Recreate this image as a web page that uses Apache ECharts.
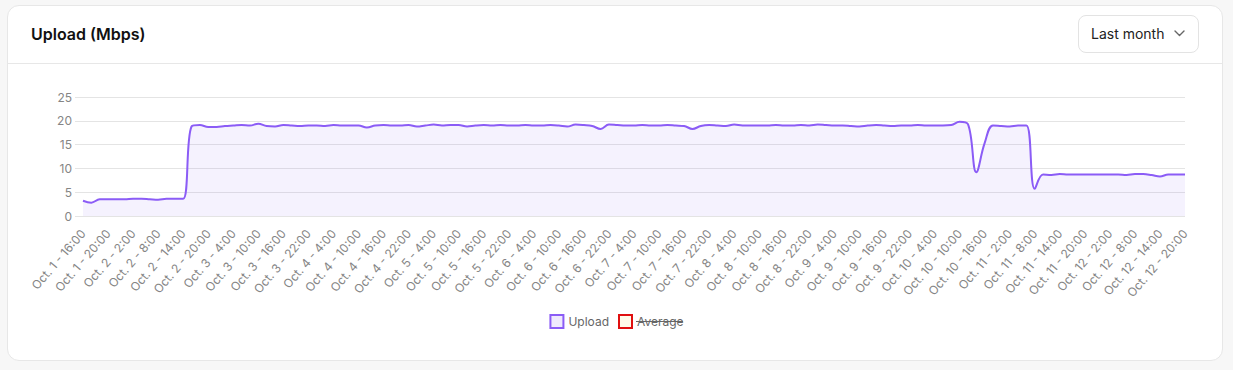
<!DOCTYPE html>
<html>
<head>
<meta charset="utf-8">
<script src="https://cdn.jsdelivr.net/npm/echarts@6/dist/echarts.min.js"></script>
<style>
  html, body { margin: 0; padding: 0; width: 1233px; height: 370px; background: #f7f7f7; font-family: Inter, "Noto Sans", sans-serif; overflow: hidden; }
  .card { position: absolute; left: 7px; top: 5px; width: 1216px; height: 356px; background: #fff; border: 1px solid #e7e7e7; border-radius: 12px; box-sizing: border-box; }
  .header { position: absolute; left: 0; top: 0; right: 0; height: 57px; border-bottom: 1px solid #e7e7e7; }
  .title { position: absolute; left: 23px; top: 18px; font-size: 16px; font-weight: 600; color: #111; line-height: 20px; }
  .dropdown { position: absolute; right: 23px; top: 9px; width: 121px; height: 38px; border: 1px solid #e3e3e3; border-radius: 8px; box-sizing: border-box; font-size: 14px; color: #222; line-height: 36px; padding-left: 12px; }
  .dropdown svg { position: absolute; right: 13px; top: 14px; }
  #chart { position: absolute; left: 0; top: 0; width: 1233px; height: 370px; z-index: 2; }
</style>
</head>
<body>
<div class="card">
  <div class="header">
    <div class="title">Upload (Mbps)</div>
    <div class="dropdown">Last month
      <svg width="11" height="7" viewBox="0 0 11 7"><path d="M1 1 L5.5 5.5 L10 1" fill="none" stroke="#666" stroke-width="1.4" stroke-linecap="round" stroke-linejoin="round"/></svg>
    </div>
  </div>
</div>
<div id="chart"></div>
<script>
// Tick labels shown on the x axis (one every 3 samples)
const xLabels = [
  'Oct. 1 - 16:00','Oct. 1 - 20:00',
  'Oct. 2 - 2:00','Oct. 2 - 8:00','Oct. 2 - 14:00','Oct. 2 - 20:00',
  'Oct. 3 - 4:00','Oct. 3 - 10:00','Oct. 3 - 16:00','Oct. 3 - 22:00',
  'Oct. 4 - 4:00','Oct. 4 - 10:00','Oct. 4 - 16:00','Oct. 4 - 22:00',
  'Oct. 5 - 4:00','Oct. 5 - 10:00','Oct. 5 - 16:00','Oct. 5 - 22:00',
  'Oct. 6 - 4:00','Oct. 6 - 10:00','Oct. 6 - 16:00','Oct. 6 - 22:00',
  'Oct. 7 - 4:00','Oct. 7 - 10:00','Oct. 7 - 16:00','Oct. 7 - 22:00',
  'Oct. 8 - 4:00','Oct. 8 - 10:00','Oct. 8 - 16:00','Oct. 8 - 22:00',
  'Oct. 9 - 4:00','Oct. 9 - 10:00','Oct. 9 - 16:00','Oct. 9 - 22:00',
  'Oct. 10 - 4:00','Oct. 10 - 10:00','Oct. 10 - 16:00',
  'Oct. 11 - 2:00','Oct. 11 - 8:00','Oct. 11 - 14:00','Oct. 11 - 20:00',
  'Oct. 12 - 2:00','Oct. 12 - 8:00','Oct. 12 - 14:00','Oct. 12 - 20:00'
];
const samplesPerLabel = 3;

// Upload samples (Mbps)
const uploadValues = [
  3.2, 2.8, 3.5, 3.5, 3.5, 3.5, 3.6, 3.6, 3.5, 3.4, 3.6, 3.6, 3.6,
  18.8, 19.1, 18.7, 18.7, 18.9, 19.0, 19.1, 19.0, 19.4, 18.9, 18.8, 19.1,
  19.0, 18.9, 19.0, 19.0, 18.9, 19.1, 19.0, 19.0, 19.0, 18.6, 19.0, 19.1,
  19.0, 19.0, 19.1, 18.8, 19.0, 19.2, 19.0, 19.1, 19.1, 18.8, 19.0, 19.1,
  19.0, 19.1, 19.0, 19.0, 19.1, 19.0, 19.0, 19.1, 19.0, 18.8, 19.2, 19.1,
  18.9, 18.3, 19.2, 19.1, 19.0, 19.0, 19.1, 19.0, 19.0, 19.1, 19.0, 18.9,
  18.3, 18.9, 19.1, 19.0, 18.9, 19.2, 19.0, 19.0, 19.0, 19.0, 19.1, 19.0,
  19.0, 19.1, 19.0, 19.2, 19.1, 19.0, 19.0, 18.9, 18.8, 19.0, 19.1, 19.0,
  18.9, 19.0, 19.0, 19.1, 19.0, 19.0, 19.0, 19.1, 19.8, 19.3, 9.2, 15.3,
  19.0, 18.9, 18.8, 19.0, 19.0, 5.7, 8.7, 8.6, 8.8, 8.7, 8.7, 8.7,
  8.7, 8.7, 8.7, 8.7, 8.6, 8.8, 8.8, 8.6, 8.3, 8.7, 8.7, 8.7
];
const averageValues = []; // hidden series

const yTicks = { min: 0, max: 25, interval: 5 };

const chart = echarts.init(document.getElementById('chart'), null, { renderer: 'svg' });
const FONT = 'Inter';
chart.setOption({
  animation: false,
  backgroundColor: 'transparent',
  textStyle: { fontFamily: FONT },
  grid: { left: 83, right: 48, top: 97, bottom: 154, containLabel: false },
  xAxis: {
    type: 'value',
    min: 0,
    max: xLabels.length - 1,
    interval: 1,
    axisLine: { show: false },
    axisTick: { show: false },
    splitLine: { show: false },
    axisLabel: {
      rotate: 49,
      margin: 15,
      fontSize: 12,
      color: '#858585',
      fontFamily: FONT,
      formatter: v => xLabels[Math.round(v)] || ''
    }
  },
  yAxis: {
    type: 'value',
    min: yTicks.min,
    max: yTicks.max,
    interval: yTicks.interval,
    axisLine: { show: false },
    axisTick: { show: true, length: 8, lineStyle: { color: '#e4e4e4' } },
    splitLine: { lineStyle: { color: '#e4e4e4', width: 1 } },
    axisLabel: { margin: 11, fontSize: 12, color: '#858585', fontFamily: FONT }
  },
  legend: {
    left: 'center',
    top: 309,
    itemWidth: 13,
    itemHeight: 13,
    itemGap: 9,
    icon: 'rect',
    textStyle: { color: '#666', fontSize: 12, fontFamily: FONT },
    data: [
      { name: 'Upload', itemStyle: { color: '#efe9fd', borderColor: '#8b5cf6', borderWidth: 2 } },
      { name: 'Average', itemStyle: { color: '#fffbea', borderColor: '#e01010', borderWidth: 2 } }
    ]
  },
  series: [
    {
      name: 'Upload',
      type: 'line',
      smooth: 0.4,
      symbol: 'none',
      data: uploadValues.map((v, k) => [k / samplesPerLabel, v]),
      lineStyle: { color: '#8b5cf6', width: 2 },
      itemStyle: { color: '#8b5cf6' },
      areaStyle: { color: 'rgba(139,92,246,0.12)', origin: 'start' }
    },
    {
      name: 'Average',
      type: 'line',
      symbol: 'none',
      data: averageValues,
      lineStyle: { color: '#e01010' },
      itemStyle: { color: '#e01010' }
    }
  ],
  graphic: [
    { type: 'line', shape: { x1: 636, y1: 321.5, x2: 683, y2: 321.5 }, style: { stroke: '#666', lineWidth: 1 }, z: 100 }
  ]
});
</script>
</body>
</html>
